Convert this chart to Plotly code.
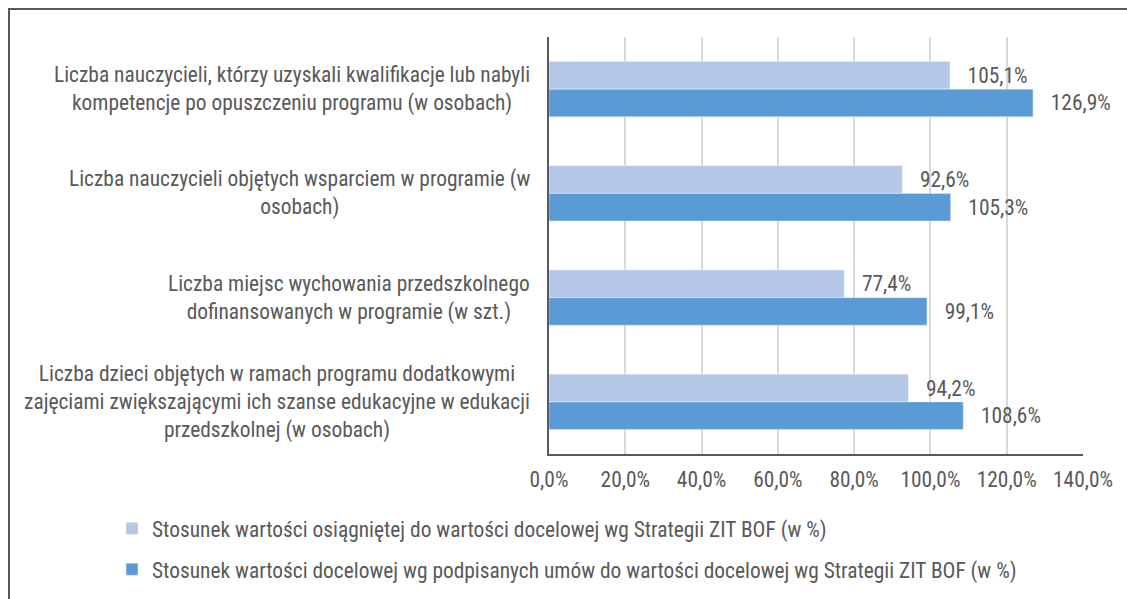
import plotly.graph_objects as go

categories = [
    "Liczba nauczycieli, którzy uzyskali kwalifikacje lub nabyli<br>kompetencje po opuszczeniu programu (w osobach)",
    "Liczba nauczycieli objętych wsparciem w programie (w<br>osobach)",
    "Liczba miejsc wychowania przedszkolnego<br>dofinansowanych w programie (w szt.)",
    "Liczba dzieci objętych w ramach programu dodatkowymi<br>zajęciami zwiększającymi ich szanse edukacyjne w edukacji<br>przedszkolnej (w osobach)",
]
cat_ids = ["c1", "c2", "c3", "c4"]
series1_name = "Stosunek wartości osiągniętej do wartości docelowej wg Strategii ZIT BOF (w %)"
series2_name = "Stosunek wartości docelowej wg podpisanych umów do wartości docelowej wg Strategii ZIT BOF (w %)"
series1 = [105.1, 92.6, 77.4, 94.2]
series2 = [126.9, 105.3, 99.1, 108.6]

FONT = "Roboto Condensed, Liberation Sans Narrow, Roboto, sans-serif"
TXT = "#595959"
FS = 21.4

W, H = 1127, 599
L, R, T, B = 549, 44, 37, 145
pw, ph = W - L - R, H - T - B

def px_x(p):
    return (p - L) / pw

def px_y(p):
    return (H - B - p) / ph

fig = go.Figure()
fig.add_trace(go.Bar(
    y=cat_ids, x=series1, orientation="h", name=series1_name,
    marker=dict(color="#B4C7E7"), legendgroup="a",
    texttemplate="\u00a0\u00a0\u00a0%{x:.1f}%", textposition="outside",
    textfont=dict(family=FONT, size=FS, color=TXT), cliponaxis=False,
))
fig.add_trace(go.Bar(
    y=cat_ids, x=series2, orientation="h", name=series2_name,
    marker=dict(color="#5B9BD5"), legendgroup="b",
    texttemplate="\u00a0\u00a0\u00a0%{x:.1f}%", textposition="outside",
    textfont=dict(family=FONT, size=FS, color=TXT), cliponaxis=False,
))

for cid, lab in zip(cat_ids, categories):
    fig.add_annotation(
        x=px_x(532), xref="paper", y=cid, yref="y", text=lab,
        xanchor="right", yanchor="middle", align="center", showarrow=False,
        font=dict(family=FONT, size=FS, color=TXT),
    )

fig.add_shape(
    type="rect", xref="paper", yref="paper",
    x0=px_x(9), x1=px_x(1140), y0=px_y(620), y1=px_y(9),
    line=dict(color="#595959", width=2), fillcolor="rgba(0,0,0,0)", layer="above",
)

fig.update_layout(
    width=W, height=H,
    margin=dict(l=L, r=R, t=T, b=B, autoexpand=False),
    paper_bgcolor="white", plot_bgcolor="white",
    separators=", ",
    barmode="group", bargap=0.47, bargroupgap=0,
    font=dict(family=FONT, size=FS, color=TXT),
    showlegend=True,
    legend=dict(
        orientation="v", x=px_x(112), xanchor="left", y=px_y(508), yanchor="top",
        traceorder="grouped", tracegroupgap=10,
        font=dict(family=FONT, size=FS, color=TXT),
        bgcolor="rgba(0,0,0,0)",
    ),
    xaxis=dict(
        range=[0, 140], dtick=20, tick0=0, tickformat=".1f", ticksuffix="%",
        showgrid=True, gridcolor="#D9D9D9", gridwidth=1.5,
        showline=True, linecolor="#595959", linewidth=1.5,
        zeroline=False, ticks="", ticklen=0, ticklabelstandoff=6,
        tickfont=dict(family=FONT, size=FS, color=TXT),
    ),
    yaxis=dict(
        categoryorder="array", categoryarray=cat_ids, autorange="reversed",
        showticklabels=False, showline=True, linecolor="#595959", linewidth=1.5,
        showgrid=False, zeroline=False, ticks="",
    ),
)

fig.write_html(
    "out.html",
    config={"displayModeBar": False},
    post_script="document.body.style.margin='0';document.body.style.padding='0';document.body.style.overflow='hidden';",
)
